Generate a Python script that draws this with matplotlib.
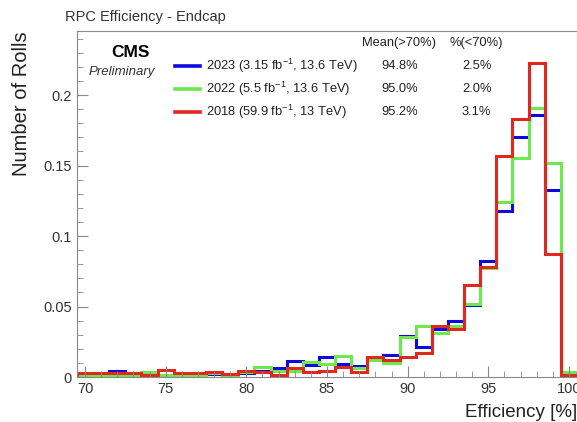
import numpy as np
import matplotlib
matplotlib.use('Agg')
import matplotlib.pyplot as plt

plt.rcParams['font.family'] = ['Liberation Sans', 'DejaVu Sans']
plt.rcParams['mathtext.fontset'] = 'custom'
plt.rcParams['mathtext.rm'] = 'Liberation Sans'

# efficiency bins, one per integer percent (70 ... 100)
eff_bins = np.arange(70, 101)

frac_2023 = [0.002, 0.0026, 0.0043, 0.0014, 0.001, 0.001, 0.001, 0.002, 0.002, 0.002,
             0.003, 0.0043, 0.0062, 0.0116, 0.0085, 0.0144, 0.009, 0.0078, 0.013, 0.0156,
             0.029, 0.0215, 0.034, 0.040, 0.051, 0.082, 0.118, 0.170, 0.186, 0.133, 0.0005]
frac_2022 = [0.001, 0.001, 0.001, 0.001, 0.0033, 0.0014, 0.0007, 0.0007, 0.003, 0.001,
             0.0035, 0.0069, 0.0045, 0.004, 0.0109, 0.0095, 0.0151, 0.0062, 0.012, 0.0097,
             0.0286, 0.036, 0.0315, 0.036, 0.052, 0.077, 0.124, 0.1555, 0.191, 0.152, 0.0033]
frac_2018 = [0.003, 0.003, 0.0026, 0.003, 0.0014, 0.005, 0.003, 0.003, 0.0038, 0.002,
             0.0043, 0.0033, 0.0014, 0.0062, 0.0038, 0.0043, 0.0072, 0.0038, 0.0144, 0.012,
             0.0144, 0.0168, 0.036, 0.034, 0.065, 0.078, 0.157, 0.183, 0.223, 0.087, 0.0014]

labels = ["2023 (3.15 fb$^{-1}$, 13.6 TeV)",
          "2022 (5.5 fb$^{-1}$, 13.6 TeV)",
          "2018 (59.9 fb$^{-1}$, 13 TeV)"]
means = ["94.8%", "95.0%", "95.2%"]
below70 = ["2.5%", "2.0%", "3.1%"]
colors = ["#0a0ae0", "#6ee84a", "#e0281e"]

edges = np.append(eff_bins - 0.5, eff_bins[-1] + 0.5)

fig = plt.figure(figsize=(5.77, 4.22), dpi=100)
ax = fig.add_axes([0.1334, 0.1066, 0.8666, 0.82])

for vals, c in zip([frac_2023, frac_2022, frac_2018], colors):
    ax.stairs(vals, edges, color=c, lw=2.2)

ax.set_xlim(69.5, 100.5)
ax.set_ylim(0, 0.2455)

ax.set_xticks(np.arange(70, 101, 5))
ax.set_xticks(np.arange(70, 101, 1), minor=True)
ax.set_yticks([0, 0.05, 0.1, 0.15, 0.2])
ax.set_yticklabels(["0", "0.05", "0.1", "0.15", "0.2"])
ax.set_yticks(np.arange(0, 0.245, 0.01), minor=True)
ax.tick_params(which='both', direction='in', colors='#888888', labelcolor='#333333',
               labelsize=10.5, top=False, right=False)
ax.tick_params(which='major', length=8)
ax.tick_params(which='minor', length=4)
for s in ax.spines.values():
    s.set_color('#888888')

ax.set_xlabel("Efficiency [%]", fontsize=13.5, color='#222222', loc='right', labelpad=6)
ax.set_ylabel("Number of Rolls", fontsize=14.5, color='#222222', loc='top', labelpad=9)
fig.text(0.113, 0.96, "RPC Efficiency - Endcap", fontsize=10.5, color='#333333', va='center')

ax.text(0.106, 0.939, "CMS", transform=ax.transAxes, fontsize=12.5, fontweight='bold',
        ha='center', va='center')
ax.text(0.09, 0.88, "Preliminary", transform=ax.transAxes, fontsize=9.5, style='italic',
        ha='center', va='center', color='#333333')

ax.text(0.57, 0.965, "Mean(>70%)", transform=ax.transAxes, fontsize=9.3, va='center',
        color='#222222')
ax.text(0.746, 0.965, "%(<70%)", transform=ax.transAxes, fontsize=9.3, va='center',
        color='#222222')
rows = [0.899, 0.832, 0.766]
for y, lab, m, b, c in zip(rows, labels, means, below70, colors):
    ax.plot([0.196, 0.246], [y, y], color=c, lw=2.6, transform=ax.transAxes)
    ax.text(0.258, y, lab, transform=ax.transAxes, fontsize=9.3, va='center', color='#222222')
    ax.text(0.608, y, m, transform=ax.transAxes, fontsize=9.3, va='center', color='#222222')
    ax.text(0.77, y, b, transform=ax.transAxes, fontsize=9.3, va='center', color='#222222')

fig.savefig("out.png", dpi=100)
